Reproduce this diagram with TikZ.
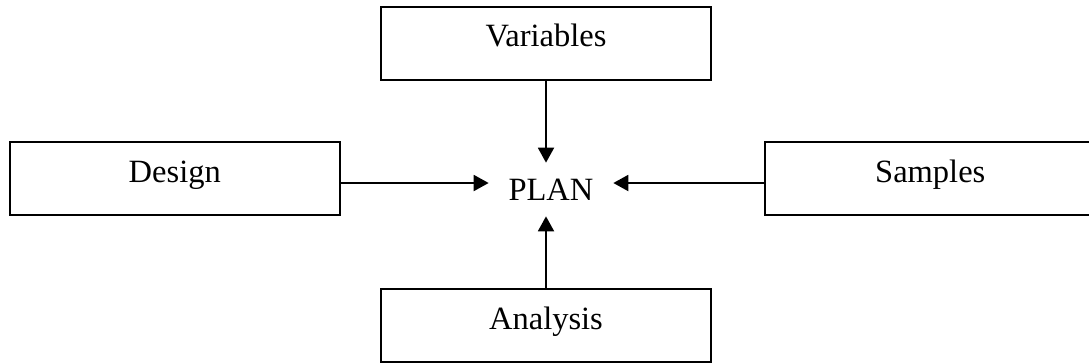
\documentclass[tikz,border=0pt]{standalone}
\usepackage{fontspec}
\setmainfont{Liberation Serif}
\usepackage{tikz}
\usetikzlibrary{positioning, arrows.meta}

\begin{document}
\begin{tikzpicture}[x=0.02cm, y=-0.02cm,
    box/.style={rectangle, draw=black, line width=1.1pt, minimum width=6.6cm, minimum height=1.46cm, inner sep=0pt, text height=0.5cm, text depth=0.36cm, font=\fontsize{18.5}{22}\selectfont},
    arr/.style={-{Triangle[length=0.3cm, width=0.32cm]}, line width=1.1pt}
]
\useasboundingbox (0,0) rectangle (1089,363);

% PLAN (centre)
\node[minimum width=2.48cm, inner sep=0pt, text height=0.74cm, text depth=0.32cm, font=\fontsize{18.5}{22}\selectfont] (plan) at (551,189.5) {PLAN};

% boxes round it
\node[box, above=1.64cm of plan, xshift=-0.1cm] (variables) {Variables};
\node[box, below=1.44cm of plan, xshift=-0.1cm] (analysis) {Analysis};
\node[box, left=2.96cm of plan, yshift=0.22cm] (design) {Design};
\node[box, right=3.02cm of plan, yshift=0.22cm] (samples) {Samples};

% arrows into PLAN
\coordinate (dstart) at ([yshift=-0.09cm]design.east);
\coordinate (sstart) at ([yshift=-0.09cm]samples.west);
\draw[arr] (variables.south) -- (variables.south |- plan.north);
\draw[arr] (analysis.north) -- (analysis.north |- plan.south);
\draw[arr] (dstart) -- (dstart -| plan.west);
\draw[arr] (sstart) -- (sstart -| plan.east);

\end{tikzpicture}
\end{document}
